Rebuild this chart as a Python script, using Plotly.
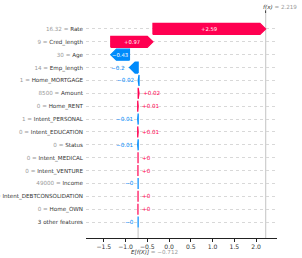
import plotly.graph_objects as go

# ---------------- data ----------------
features = ["Rate", "Cred_length", "Age", "Emp_length", "Home_MORTGAGE", "Amount",
            "Home_RENT", "Intent_PERSONAL", "Intent_EDUCATION", "Status",
            "Intent_MEDICAL", "Intent_VENTURE", "Income", "Intent_DEBTCONSOLIDATION",
            "Home_OWN", "3 other features"]
feature_values = ["16.32", "9", "30", "14", "1", "8500", "0", "1", "0", "0",
                  "0", "0", "49000", "0", "0", ""]
shap_values = [2.59, 0.97, -0.43, -0.20, -0.02, 0.02, 0.01, -0.01, 0.01, -0.01,
               0.003, 0.002, -0.004, 0.002, 0.002, -0.004]
base_value = -0.712
fx_value = 2.219
x_ticks = [-1.5, -1.0, -0.5, 0.0, 0.5, 1.0, 1.5, 2.0]

# ---------------- style ----------------
POS = "#ff0051"
NEG = "#008bfb"
FONT = "DejaVu Sans"
FS = 5.6
X_RANGE = [-1.91, 2.48]
HALF_H = 0.43
HEAD = 0.13
INSIDE_MIN = 0.3


def fmt(v):
    s = "%+0.02f" % v
    s = s.rstrip("0").rstrip(".")
    if s.startswith("-"):
        s = "\u2212" + s[1:]
    return s


n = len(features)
ys = [n - 1 - i for i in range(n)]
starts = [0.0] * n
ends = [0.0] * n
cur = base_value
for i in reversed(range(n)):
    starts[i] = cur
    cur += shap_values[i]
    ends[i] = cur

fig = go.Figure()
annotations = []
for i in range(n):
    v = shap_values[i]
    s, e, y = starts[i], ends[i], ys[i]
    d = 1 if v >= 0 else -1
    hl = min(HEAD, abs(v))
    col = POS if v >= 0 else NEG
    px = [s, e - d * hl, e, e - d * hl, s, s]
    py = [y - HALF_H, y - HALF_H, y, y + HALF_H, y + HALF_H, y - HALF_H]
    fig.add_trace(go.Scatter(x=px, y=py, mode="lines", fill="toself",
                             fillcolor=col, line=dict(color=col, width=1.2),
                             hoverinfo="skip", showlegend=False))
    if abs(v) > INSIDE_MIN:
        annotations.append(dict(x=(s + e) / 2, y=y, text=fmt(v),
                                showarrow=False, font=dict(color="white", size=FS - 0.3, family=FONT)))
    else:
        annotations.append(dict(x=e, y=y, text=fmt(v), showarrow=False,
                                xanchor="left" if d > 0 else "right",
                                xshift=2 * d,
                                font=dict(color=col, size=FS, family=FONT)))

ticktext = []
for name, val in zip(features, feature_values):
    if val:
        ticktext.append('<span style="color:#999999">%s = </span>%s' % (val, name))
    else:
        ticktext.append(name)

shapes = [
    dict(type="line", xref="x", yref="paper", x0=fx_value, x1=fx_value, y0=0, y1=1,
         line=dict(color="#d0d0d0", width=1.3), layer="below"),
    dict(type="line", xref="x", yref="paper", x0=fx_value, x1=fx_value, y0=1, y1=1.012,
         line=dict(color="#333333", width=1)),
    dict(type="line", xref="x", yref="y", x0=base_value, x1=base_value,
         y0=-1.24, y1=-HALF_H, line=dict(color="#d0d0d0", width=1.3), layer="below"),
]

annotations.append(dict(x=fx_value, y=1, xref="x", yref="paper", xanchor="left",
                        yanchor="bottom", xshift=-5, yshift=1, showarrow=False,
                        text='<i>f(x)</i><span style="color:#999999"> = %.3f</span>' % fx_value,
                        font=dict(color="#333333", size=FS, family=FONT)))
annotations.append(dict(x=base_value, y=0, xref="x", yref="paper", xanchor="left",
                        yanchor="top", xshift=-9, yshift=-9, showarrow=False,
                        text='<i>E[f(X)]</i><span style="color:#999999"> = \u2212%.3f</span>' % abs(base_value),
                        font=dict(color="#333333", size=FS, family=FONT)))

fig.update_layout(
    width=302, height=258,
    margin=dict(l=86, r=25, t=13, b=20),
    paper_bgcolor="white", plot_bgcolor="white",
    font=dict(family=FONT, size=FS, color="#333333"),
    shapes=shapes, annotations=annotations,
    xaxis=dict(range=X_RANGE, tickvals=x_ticks, automargin=False,
               ticktext=[("\u2212%.1f" % abs(t)) if t < 0 else "%.1f" % t for t in x_ticks],
               showgrid=False, zeroline=False, showline=True, linecolor="#222222",
               linewidth=1.2, ticks="outside", ticklen=3, tickwidth=1, tickcolor="#222222",
               tickfont=dict(size=FS + 0.5, color="#333333", family=FONT)),
    yaxis=dict(range=[-1.24, n - 1 + 1.24], tickvals=ys, ticktext=ticktext, automargin=False,
               showgrid=True, gridcolor="#d8d8d8", griddash="dot", gridwidth=0.8,
               zeroline=False, showline=False, ticks="", ticklabelstandoff=2,
               tickfont=dict(size=FS, color="#333333", family=FONT)),
)

fig.write_html("out.html", config={"displayModeBar": False},
               post_script="document.body.style.margin='0';")
